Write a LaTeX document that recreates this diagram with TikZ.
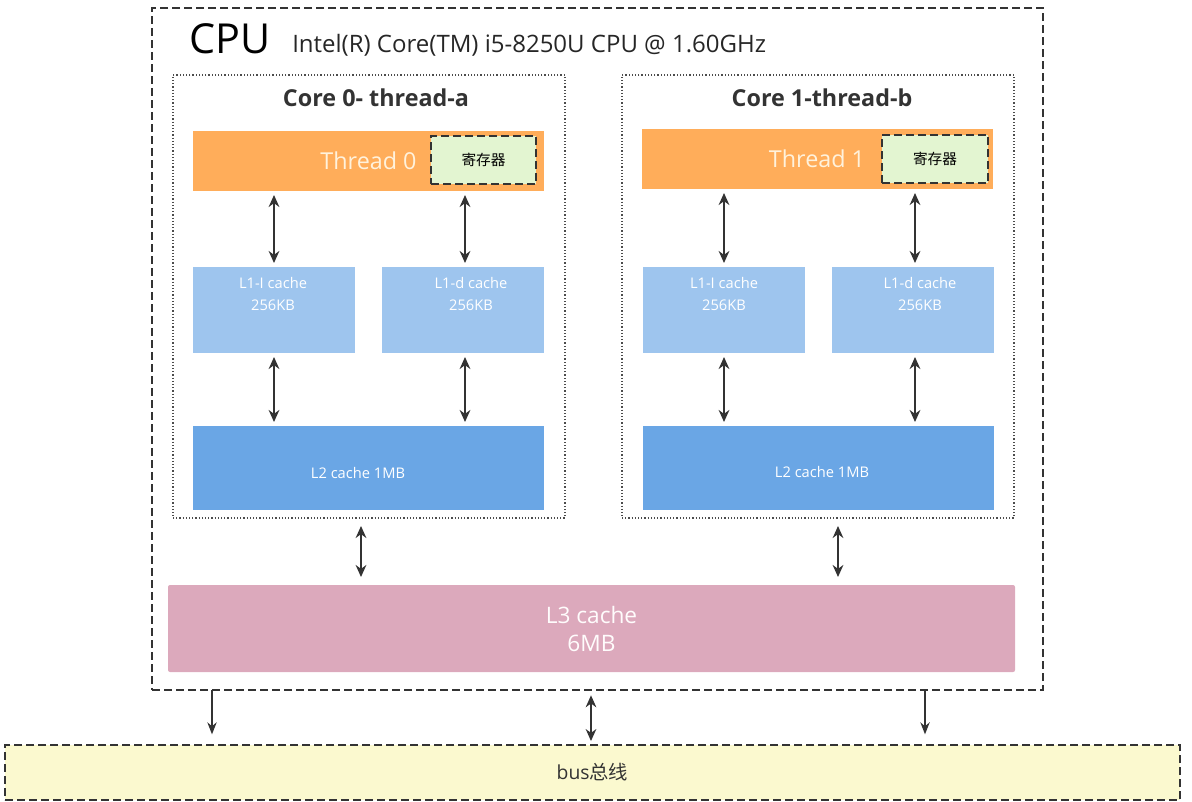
\documentclass[tikz,border=0pt]{standalone}
\usepackage{fontspec}
\setmainfont{Open Sans}
\newfontfamily\cjk{Noto Sans CJK SC}
\usetikzlibrary{arrows.meta,calc}
\definecolor{thr}{HTML}{FFAD5A}
\definecolor{thrtxt}{HTML}{FFF2DC}
\definecolor{reg}{HTML}{E3F5D1}
\definecolor{lone}{HTML}{9EC5EE}
\definecolor{ltwo}{HTML}{6AA6E5}
\definecolor{lthree}{HTML}{DCA9BC}
\definecolor{bus}{HTML}{FBF9CF}
\definecolor{ink}{HTML}{333333}
\tikzset{
  px/.style 2 args={minimum width=#1*0.75pt, minimum height=#2*0.75pt, inner sep=0pt, outer sep=0pt},
  cpubox/.style={draw=ink, line width=1.3pt, dash pattern=on 6pt off 3pt},
  corebox/.style={draw=black!70, line width=1.3pt, dash pattern=on 0.9pt off 1.5pt},
  thrbox/.style={fill=thr, text=thrtxt, font=\fontsize{17.5}{20}\selectfont},
  regbox/.style={fill=reg, draw=ink, line width=1.5pt, dash pattern=on 6pt off 3pt, font=\cjk\fontsize{11}{13}\selectfont},
  lonebox/.style={fill=lone},
  ltwobox/.style={fill=ltwo},
  boxtxt/.style={text=white, font=\fontsize{11}{17}\selectfont, align=center, inner sep=0pt},
  lthreebox/.style={fill=lthree, rounded corners=1.5pt, text=white!95!pink, font=\fontsize{17}{21}\selectfont, align=center},
  busbox/.style={fill=bus, draw=ink, line width=1.3pt, dash pattern=on 6pt off 3pt, font=\fontsize{14.5}{16}\selectfont, text=ink},
  coretitle/.style={font=\bfseries\fontsize{17.5}{20}\selectfont, text=ink},
  biarr/.style={draw=ink, line width=1.6pt, {Stealth[length=9pt,width=8pt]}-{Stealth[length=9pt,width=8pt]}},
  dnarr/.style={draw=ink, line width=1.1pt, -{Stealth[length=9pt,width=7pt]}},
}
\begin{document}
\begin{tikzpicture}[x=0.75pt, y=-0.75pt]
\useasboundingbox (0,0) rectangle (1192,801);

% CPU
\node[cpubox, px={891}{682}] (cpu) at (597.5,349) {};
\node[anchor=base west, inner sep=0pt, font=\fontsize{31}{33}\selectfont] (cputitle) at (189,53) {CPU};
\node[anchor=base west, inner sep=0pt, font=\fontsize{18}{20}\selectfont, text=black!85] (model) at (292,52) {Intel(R) Core(TM) i5-8250U CPU @ 1.60GHz};

% Core 0
\node[corebox, px={392}{443}] (core0) at (369,296.5) {};
\node[coretitle] (core0t) at (376,98) {Core 0- thread-a};
\node[thrbox, px={351}{60}] (thread0) at (368.5,161) {Thread 0};
\node[regbox, px={105}{48}] (reg0) at (483.5,160) {寄存器};
\node[lonebox, px={162}{86}] (l1i0) at (274,310) {};
\node[boxtxt] (l1i0t) at (273,294) {L1-I cache\\256KB};
\node[lonebox, px={162}{86}] (l1d0) at (463,310) {};
\node[boxtxt] (l1d0t) at (471,294) {L1-d cache\\256KB};
\node[ltwobox, px={351}{84}] (l20) at (368.5,468) {};
\node[boxtxt] (l20t) at (358,473) {L2 cache 1MB};

% Core 1
\node[corebox, px={392}{443}] (core1) at (818,296.5) {};
\node[coretitle] (core1t) at (822,98) {Core 1-thread-b};
\node[thrbox, px={351}{60}] (thread1) at (817,159) {Thread 1};
\node[regbox, px={106}{48}] (reg1) at (935,159) {寄存器};
\node[lonebox, px={162}{86}] (l1i1) at (724,310) {};
\node[boxtxt] (l1i1t) at (724,294) {L1-I cache\\256KB};
\node[lonebox, px={162}{86}] (l1d1) at (913,310) {};
\node[boxtxt] (l1d1t) at (920,294) {L1-d cache\\256KB};
\node[ltwobox, px={351}{84}] (l21) at (818.5,468) {};
\node[boxtxt] (l21t) at (822,472) {L2 cache 1MB};

% L3
\node[lthreebox, px={847}{87}] (l3) at (591.5,628.5) {L3 cache\\6MB};

% bus
\node[busbox, px={1175}{55}] (bus) at (592.5,772.5) {bus\cjk 总线};

% arrows core 0
\draw[biarr, shorten <=3pt, shorten >=3pt] (thread0.south -| 274,0) -- (l1i0.north -| 274,0);
\draw[biarr, shorten <=3pt, shorten >=3pt] (thread0.south -| 465,0) -- (l1d0.north -| 465,0);
\draw[biarr, shorten <=3pt, shorten >=3pt] (l1i0.south -| 274,0) -- (l20.north -| 274,0);
\draw[biarr, shorten <=3pt, shorten >=3pt] (l1d0.south -| 465,0) -- (l20.north -| 465,0);
% arrows core 1
\draw[biarr, shorten <=3pt, shorten >=3pt] (thread1.south -| 724,0) -- (l1i1.north -| 724,0);
\draw[biarr, shorten <=3pt, shorten >=3pt] (thread1.south -| 915,0) -- (l1d1.north -| 915,0);
\draw[biarr, shorten <=3pt, shorten >=3pt] (l1i1.south -| 724,0) -- (l21.north -| 724,0);
\draw[biarr, shorten <=3pt, shorten >=3pt] (l1d1.south -| 915,0) -- (l21.north -| 915,0);
% cores to L3
\draw[biarr, shorten <=6pt, shorten >=6pt] (core0.south -| 361,0) -- (l3.north -| 361,0);
\draw[biarr, shorten <=6pt, shorten >=6pt] (core1.south -| 838,0) -- (l3.north -| 838,0);
% CPU to bus
\draw[dnarr, shorten >=8pt] (cpu.south -| 212,0) -- (bus.north -| 212,0);
\draw[biarr, line width=1.1pt, shorten <=4pt, shorten >=3pt] (cpu.south -| 591,0) -- (bus.north -| 591,0);
\draw[dnarr, shorten >=8pt] (cpu.south -| 925,0) -- (bus.north -| 925,0);
\end{tikzpicture}
\end{document}
